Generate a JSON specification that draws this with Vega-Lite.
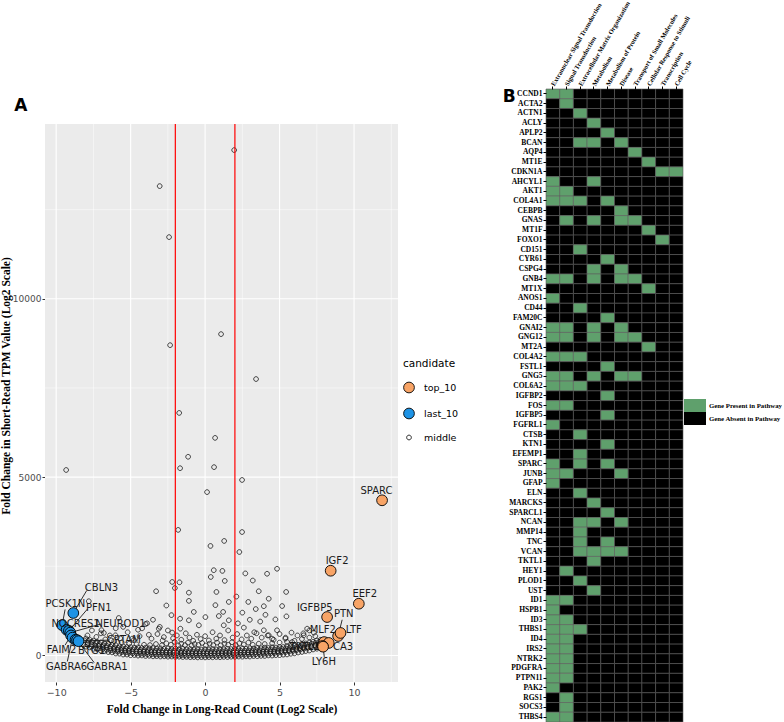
{
"$schema":"https://vega.github.io/schema/vega-lite/v6.json",
"background":"white",
"padding":{"left":0,"top":0,"right":0,"bottom":0},
"config":{"view":{"stroke":null},"font":"DejaVu Sans"},
"datasets":{
"mid":[
{"x":-8,"y":245},{"x":-7.75,"y":225},{"x":-7.5,"y":185},{"x":-7.25,"y":170},{"x":-7,"y":135},{"x":-6.75,"y":125},{"x":-6.5,"y":95},{"x":-6.25,"y":85},{"x":-6,"y":55},{"x":-5.75,"y":50},{"x":-5.5,"y":25},{"x":-5.25,"y":25},{"x":-5,"y":5},{"x":-4.75,"y":10},{"x":-4.5,"y":-5},{"x":-4.25,"y":0},{"x":-4,"y":-15},{"x":-3.75,"y":-10},{"x":-3.5,"y":-25},{"x":-3.25,"y":-20},{"x":-3,"y":-30},{"x":-2.75,"y":-25},{"x":-2.5,"y":-35},{"x":-2.25,"y":-30},{"x":-2,"y":-40},{"x":-1.75,"y":-35},{"x":-1.5,"y":-45},{"x":-1.25,"y":-40},{"x":-1,"y":-50},{"x":-0.75,"y":-45},{"x":-0.5,"y":-55},{"x":-0.25,"y":-48},{"x":0,"y":-55},{"x":0.25,"y":-47},{"x":0.5,"y":-52},{"x":0.75,"y":-44},{"x":1,"y":-50},{"x":1.25,"y":-41},{"x":1.5,"y":-45},{"x":1.75,"y":-36},{"x":2,"y":-40},{"x":2.25,"y":-31},{"x":2.5,"y":-35},{"x":2.75,"y":-25},{"x":3,"y":-30},{"x":3.25,"y":-18},{"x":3.5,"y":-22},{"x":3.75,"y":-12},{"x":4,"y":-14},{"x":4.25,"y":0},{"x":4.5,"y":-3},{"x":4.75,"y":8},{"x":5,"y":8},{"x":5.25,"y":22},{"x":5.5,"y":28},{"x":5.75,"y":48},{"x":6,"y":58},{"x":6.25,"y":82},{"x":6.5,"y":98},{"x":6.75,"y":122},{"x":7,"y":138},{"x":7.25,"y":168},{"x":7.5,"y":188},{"x":7.75,"y":222},
{"x":-7.88,"y":350},{"x":-7.62,"y":310},{"x":-7.38,"y":280},{"x":-7.12,"y":270},{"x":-6.88,"y":235},{"x":-6.62,"y":225},{"x":-6.38,"y":195},{"x":-6.12,"y":185},{"x":-5.88,"y":160},{"x":-5.62,"y":150},{"x":-5.38,"y":130},{"x":-5.12,"y":128},{"x":-4.88,"y":112},{"x":-4.62,"y":115},{"x":-4.38,"y":102},{"x":-4.12,"y":106},{"x":-3.88,"y":94},{"x":-3.62,"y":98},{"x":-3.38,"y":86},{"x":-3.12,"y":90},{"x":-2.88,"y":80},{"x":-2.62,"y":84},{"x":-2.38,"y":74},{"x":-2.12,"y":78},{"x":-1.88,"y":68},{"x":-1.62,"y":73},{"x":-1.38,"y":63},{"x":-1.12,"y":68},{"x":-0.88,"y":59},{"x":-0.62,"y":65},{"x":-0.38,"y":57},{"x":-0.12,"y":63},{"x":0.12,"y":58},{"x":0.38,"y":64},{"x":0.62,"y":60},{"x":0.88,"y":66},{"x":1.12,"y":62},{"x":1.38,"y":69},{"x":1.62,"y":66},{"x":1.88,"y":74},{"x":2.12,"y":72},{"x":2.38,"y":80},{"x":2.62,"y":78},{"x":2.88,"y":86},{"x":3.12,"y":84},{"x":3.38,"y":93},{"x":3.62,"y":91},{"x":3.88,"y":101},{"x":4.12,"y":99},{"x":4.38,"y":110},{"x":4.62,"y":108},{"x":4.88,"y":120},{"x":5.12,"y":122},{"x":5.38,"y":138},{"x":5.62,"y":144},{"x":5.88,"y":166},{"x":6.12,"y":176},{"x":6.38,"y":204},{"x":6.62,"y":216},{"x":6.88,"y":243},{"x":7.12,"y":258},{"x":7.38,"y":290},{"x":7.62,"y":312},
{"x":-8,"y":475},{"x":-7.75,"y":445},{"x":-7.5,"y":415},{"x":-7.25,"y":380},{"x":-7,"y":365},{"x":-6.75,"y":335},{"x":-6.5,"y":325},{"x":-6.25,"y":295},{"x":-6,"y":285},{"x":-5.75,"y":260},{"x":-5.5,"y":255},{"x":-5.25,"y":235},{"x":-5,"y":235},{"x":-4.75,"y":220},{"x":-4.5,"y":225},{"x":-4.25,"y":210},{"x":-4,"y":215},{"x":-3.75,"y":200},{"x":-3.5,"y":207},{"x":-3.25,"y":193},{"x":-3,"y":200},{"x":-2.75,"y":187},{"x":-2.5,"y":195},{"x":-2.25,"y":181},{"x":-2,"y":190},{"x":-1.75,"y":176},{"x":-1.5,"y":185},{"x":-1.25,"y":171},{"x":-1,"y":180},{"x":-0.75,"y":167},{"x":-0.5,"y":177},{"x":-0.25,"y":165},{"x":0,"y":175},{"x":0.25,"y":166},{"x":0.5,"y":178},{"x":0.75,"y":168},{"x":1,"y":181},{"x":1.25,"y":172},{"x":1.5,"y":186},{"x":1.75,"y":177},{"x":2,"y":192},{"x":2.25,"y":182},{"x":2.5,"y":197},{"x":2.75,"y":188},{"x":3,"y":203},{"x":3.25,"y":194},{"x":3.5,"y":210},{"x":3.75,"y":202},{"x":4,"y":218},{"x":4.25,"y":210},{"x":4.5,"y":228},{"x":4.75,"y":220},{"x":5,"y":238},{"x":5.25,"y":236},{"x":5.5,"y":258},{"x":5.75,"y":262},{"x":6,"y":288},{"x":6.25,"y":296},{"x":6.5,"y":328},{"x":6.75,"y":336},{"x":7,"y":368},{"x":7.25,"y":382},{"x":7.5,"y":418},{"x":7.75,"y":438},
{"x":-7.9,"y":300},{"x":-7.64,"y":250},{"x":-7.36,"y":225},{"x":-7.1,"y":200},{"x":-6.86,"y":180},{"x":-6.6,"y":160},{"x":-6.36,"y":140},{"x":-6.1,"y":125},{"x":-5.86,"y":110},{"x":-5.6,"y":95},{"x":-5.36,"y":80},{"x":-5.1,"y":72},{"x":-4.86,"y":60},{"x":-4.6,"y":55},{"x":-4.36,"y":46},{"x":-4.1,"y":42},{"x":-3.86,"y":35},{"x":-3.6,"y":31},{"x":-3.36,"y":26},{"x":-3.1,"y":22},{"x":-2.86,"y":18},{"x":-2.6,"y":15},{"x":-2.36,"y":12},{"x":-2.1,"y":9},{"x":-1.86,"y":6},{"x":-1.6,"y":4},{"x":-1.36,"y":2},{"x":-1.1,"y":0},{"x":-0.86,"y":-2},{"x":-0.6,"y":-3},{"x":-0.36,"y":-4},{"x":-0.1,"y":-5},{"x":0.14,"y":-4},{"x":0.4,"y":-3},{"x":0.64,"y":-2},{"x":0.9,"y":0},{"x":1.14,"y":2},{"x":1.4,"y":5},{"x":1.64,"y":7},{"x":1.9,"y":10},{"x":2.14,"y":13},{"x":2.4,"y":16},{"x":2.64,"y":20},{"x":2.9,"y":24},{"x":3.14,"y":28},{"x":3.4,"y":33},{"x":3.64,"y":38},{"x":3.9,"y":44},{"x":4.14,"y":50},{"x":4.4,"y":57},{"x":4.64,"y":64},{"x":4.9,"y":74},{"x":5.14,"y":84},{"x":5.4,"y":97},{"x":5.64,"y":112},{"x":5.9,"y":128},{"x":6.14,"y":146},{"x":6.4,"y":168},{"x":6.64,"y":188},{"x":6.9,"y":212},{"x":7.14,"y":234},{"x":7.4,"y":262},{"x":7.64,"y":290},
{"x":-7.85,"y":410},{"x":-7.6,"y":385},{"x":-7.35,"y":350},{"x":-7.1,"y":320},{"x":-6.85,"y":290},{"x":-6.6,"y":275},{"x":-6.35,"y":250},{"x":-6.1,"y":232},{"x":-5.85,"y":215},{"x":-5.6,"y":205},{"x":-5.35,"y":190},{"x":-5.1,"y":180},{"x":-4.85,"y":170},{"x":-4.6,"y":166},{"x":-4.35,"y":158},{"x":-4.1,"y":155},{"x":-3.85,"y":148},{"x":-3.6,"y":146},{"x":-3.35,"y":140},{"x":-3.1,"y":139},{"x":-2.85,"y":133},{"x":-2.6,"y":133},{"x":-2.35,"y":128},{"x":-2.1,"y":128},{"x":-1.85,"y":122},{"x":-1.6,"y":123},{"x":-1.35,"y":118},{"x":-1.1,"y":120},{"x":-0.85,"y":114},{"x":-0.6,"y":118},{"x":-0.35,"y":112},{"x":-0.1,"y":117},{"x":0.15,"y":113},{"x":0.4,"y":119},{"x":0.65,"y":115},{"x":0.9,"y":122},{"x":1.15,"y":118},{"x":1.4,"y":126},{"x":1.65,"y":122},{"x":1.9,"y":131},{"x":2.15,"y":127},{"x":2.4,"y":137},{"x":2.65,"y":133},{"x":2.9,"y":143},{"x":3.15,"y":140},{"x":3.4,"y":151},{"x":3.65,"y":148},{"x":3.9,"y":160},{"x":4.15,"y":158},{"x":4.4,"y":170},{"x":4.65,"y":168},{"x":4.9,"y":181},{"x":5.15,"y":186},{"x":5.4,"y":200},{"x":5.65,"y":208},{"x":5.9,"y":225},{"x":6.15,"y":240},{"x":6.4,"y":262},{"x":6.65,"y":280},{"x":6.9,"y":305},{"x":7.15,"y":326},{"x":7.4,"y":352},{"x":7.65,"y":378},
{"x":-7.9,"y":560},{"x":-7.3,"y":520},{"x":-6.7,"y":450},{"x":-6.1,"y":400},{"x":-5.6,"y":360},{"x":-5.1,"y":330},{"x":-4.6,"y":310},{"x":-4.1,"y":300},{"x":-3.7,"y":290},{"x":-3.3,"y":320},{"x":-2.9,"y":285},{"x":-2.6,"y":340},{"x":-2.3,"y":300},{"x":-2.05,"y":380},{"x":-1.8,"y":280},{"x":-1.6,"y":330},{"x":-1.35,"y":290},{"x":-1.15,"y":360},{"x":-0.9,"y":275},{"x":-0.7,"y":320},{"x":-0.45,"y":295},{"x":-0.2,"y":350},{"x":0.05,"y":280},{"x":0.3,"y":330},{"x":0.55,"y":290},{"x":0.8,"y":360},{"x":1.05,"y":285},{"x":1.3,"y":330},{"x":1.55,"y":300},{"x":1.8,"y":370},{"x":2.05,"y":290},{"x":2.3,"y":340},{"x":2.6,"y":305},{"x":2.9,"y":360},{"x":3.2,"y":300},{"x":3.6,"y":330},{"x":4,"y":320},{"x":4.5,"y":340},{"x":5,"y":360},{"x":5.5,"y":380},{"x":6,"y":410},{"x":6.5,"y":460},{"x":7,"y":500},{"x":7.4,"y":540},{"x":-8.15,"y":300},{"x":-8.1,"y":420},
{"x":-7.6,"y":700},{"x":-7,"y":620},{"x":-6.4,"y":560},{"x":-6,"y":760},{"x":-5.7,"y":480},{"x":-5.2,"y":650},{"x":-4.8,"y":430},{"x":-4.4,"y":540},{"x":-4,"y":880},{"x":-3.6,"y":470},{"x":-3.2,"y":600},{"x":-2.85,"y":420},{"x":-2.5,"y":700},{"x":-2.15,"y":480},{"x":-1.9,"y":560},{"x":-1.6,"y":440},{"x":-1.3,"y":620},{"x":-1.05,"y":500},{"x":-0.8,"y":410},{"x":-0.55,"y":580},{"x":-0.3,"y":460},{"x":0,"y":540},{"x":0.25,"y":420},{"x":0.5,"y":650},{"x":0.75,"y":470},{"x":1,"y":560},{"x":1.3,"y":430},{"x":1.55,"y":700},{"x":1.85,"y":500},{"x":2.15,"y":600},{"x":2.45,"y":450},{"x":2.8,"y":560},{"x":3.1,"y":470},{"x":3.45,"y":620},{"x":3.8,"y":500},{"x":4.2,"y":560},{"x":4.6,"y":440},{"x":5,"y":600},{"x":5.4,"y":500},{"x":5.8,"y":640},{"x":6.2,"y":560},{"x":6.6,"y":620},{"x":7,"y":700},{"x":7.3,"y":640},
{"x":-1.81,"y":3520},{"x":0.36,"y":3070},{"x":1.28,"y":3210},{"x":0.58,"y":2390},{"x":1.16,"y":2370},{"x":0.38,"y":2200},{"x":1.32,"y":2090},{"x":-2.21,"y":2060},{"x":-1.72,"y":2050},{"x":-2.03,"y":1890},{"x":-3.29,"y":1800},{"x":-1.09,"y":1760},{"x":0.76,"y":1780},{"x":-1.09,"y":1530},{"x":-7.81,"y":1520},{"x":1.59,"y":1500},{"x":0.69,"y":1410},{"x":1.21,"y":1220},{"x":-0.76,"y":1220},{"x":-2.26,"y":1130},{"x":-1.68,"y":1030},{"x":-4.5,"y":720},{"x":-6.96,"y":710},{"x":-6.8,"y":630},{"x":-3.11,"y":750},{"x":-4.23,"y":760},{"x":-3.78,"y":580},{"x":-3.04,"y":800},{"x":-2.77,"y":515},{"x":-2.21,"y":640},{"x":-1.66,"y":750},{"x":-1.09,"y":985},{"x":-0.42,"y":845},{"x":0.02,"y":1075},{"x":0.92,"y":1105},{"x":1.25,"y":845},{"x":1.59,"y":985},{"x":-6.02,"y":565},{"x":-4.9,"y":470},
{"x":4.16,"y":2290},{"x":4.83,"y":2430},{"x":5.44,"y":1780},{"x":4.27,"y":1590},{"x":3.94,"y":1380},{"x":5.17,"y":1385},{"x":4.72,"y":1010},{"x":4.05,"y":1140},{"x":5.46,"y":1095},{"x":6.85,"y":750},{"x":6.62,"y":565},{"x":5.84,"y":375},{"x":5.39,"y":470},{"x":4.5,"y":470},{"x":4.83,"y":705},{"x":3.94,"y":705},{"x":4.27,"y":565},
{"x":2.3,"y":2900},{"x":2.7,"y":2300},{"x":3.2,"y":2100},{"x":3.6,"y":1800},{"x":2.1,"y":1650},{"x":2.9,"y":1500},{"x":3.4,"y":1300},{"x":2.5,"y":1200},{"x":3,"y":1000},{"x":2.2,"y":900},{"x":3.7,"y":950},{"x":2.6,"y":780},{"x":3.3,"y":650},
{"x":-5.5,"y":800},{"x":-6.3,"y":420},{"x":-3.5,"y":1000},{"x":-2.6,"y":1400},{"x":-3.9,"y":900},{"x":-5.8,"y":1050},
{"x":1.95,"y":14170},{"x":-3.05,"y":13160},{"x":-2.42,"y":11730},{"x":-2.35,"y":8700},{"x":1.07,"y":9010},{"x":3.42,"y":7750},{"x":-1.74,"y":6800},{"x":0.67,"y":6100},{"x":-1.14,"y":5570},{"x":-1.68,"y":5250},{"x":0.6,"y":5280},{"x":-9.33,"y":5200},{"x":0.13,"y":4580},{"x":2.48,"y":4920},{"x":2.48,"y":3460}
],
"cand":[
{"n":"SPARC","c":"top_10","x":11.88,"y":4350,"lx":11.5,"ly":4620},
{"n":"IGF2","c":"top_10","x":8.43,"y":2375,"lx":8.86,"ly":2650},
{"n":"EEF2","c":"top_10","x":10.32,"y":1450,"lx":10.72,"ly":1720},
{"n":"IGFBP5","c":"top_10","x":8.19,"y":1077,"lx":7.36,"ly":1320},
{"n":"PTN","c":"top_10","x":8.93,"y":545,"lx":9.31,"ly":1160,"sx":9.2,"sy":1000},
{"n":"LTF","c":"top_10","x":9.09,"y":630,"lx":9.98,"ly":710},
{"n":"MLF2","c":"top_10","x":7.99,"y":375,"lx":7.9,"ly":710},
{"n":"CA3","c":"top_10","x":8.3,"y":350,"lx":9.26,"ly":235},
{"n":"TKTL1","c":"top_10","x":7.89,"y":265,"lx":6.69,"ly":235},
{"n":"LY6H","c":"top_10","x":7.92,"y":245,"lx":7.97,"ly":-190,"sx":8.0,"sy":-40},
{"n":"CBLN3","c":"last_10","x":-8.85,"y":1190,"lx":-6.96,"ly":1880,"sx":-7.95,"sy":1820},
{"n":"PCSK1N","c":"last_10","x":-9.6,"y":850,"lx":-9.38,"ly":1440,"sx":-9.4,"sy":1290},
{"n":"NOCRES1","c":"last_10","x":-9.3,"y":720,"lx":-8.7,"ly":880},
{"n":"PFN1","c":"last_10","x":-9.15,"y":690,"lx":-7.14,"ly":1330,"sx":-7.9,"sy":1300},
{"n":"NEUROD1","c":"last_10","x":-9.05,"y":640,"lx":-5.68,"ly":880,"sx":-7.0,"sy":880},
{"n":"FAIM2","c":"last_10","x":-9.0,"y":560,"lx":-9.64,"ly":150,"sx":-9.4,"sy":290},
{"n":"GABRA6","c":"last_10","x":-8.9,"y":500,"lx":-9.3,"ly":-330,"sx":-9.25,"sy":-170},
{"n":"BTG1","c":"last_10","x":-8.7,"y":440,"lx":-7.63,"ly":130,"sx":-8.05,"sy":190},
{"n":"GABRA1","c":"last_10","x":-8.6,"y":430,"lx":-6.58,"ly":-330,"sx":-7.45,"sy":-200},
{"n":"CRTAM","c":"last_10","x":-8.5,"y":400,"lx":-5.46,"ly":430,"sx":-6.45,"sy":430}
],
"heat":[
{"g":"CCND1","p1":1,"p2":1,"p3":0,"p4":0,"p5":0,"p6":0,"p7":0,"p8":0,"p9":0,"p10":0},
{"g":"ACTA2","p1":0,"p2":1,"p3":0,"p4":0,"p5":0,"p6":0,"p7":0,"p8":0,"p9":0,"p10":0},
{"g":"ACTN1","p1":0,"p2":0,"p3":1,"p4":0,"p5":0,"p6":0,"p7":0,"p8":0,"p9":0,"p10":0},
{"g":"ACLY","p1":0,"p2":0,"p3":0,"p4":1,"p5":0,"p6":0,"p7":0,"p8":0,"p9":0,"p10":0},
{"g":"APLP2","p1":0,"p2":0,"p3":0,"p4":0,"p5":1,"p6":0,"p7":0,"p8":0,"p9":0,"p10":0},
{"g":"BCAN","p1":0,"p2":0,"p3":1,"p4":1,"p5":0,"p6":1,"p7":0,"p8":0,"p9":0,"p10":0},
{"g":"AQP4","p1":0,"p2":0,"p3":0,"p4":0,"p5":0,"p6":0,"p7":1,"p8":0,"p9":0,"p10":0},
{"g":"MT1E","p1":0,"p2":0,"p3":0,"p4":0,"p5":0,"p6":0,"p7":0,"p8":1,"p9":0,"p10":0},
{"g":"CDKN1A","p1":0,"p2":0,"p3":0,"p4":0,"p5":0,"p6":0,"p7":0,"p8":0,"p9":1,"p10":1},
{"g":"AHCYL1","p1":1,"p2":0,"p3":0,"p4":1,"p5":0,"p6":0,"p7":0,"p8":0,"p9":0,"p10":0},
{"g":"AKT1","p1":1,"p2":1,"p3":0,"p4":0,"p5":0,"p6":0,"p7":0,"p8":0,"p9":0,"p10":0},
{"g":"COL4A1","p1":1,"p2":1,"p3":1,"p4":0,"p5":1,"p6":0,"p7":0,"p8":0,"p9":0,"p10":0},
{"g":"CEBPB","p1":0,"p2":0,"p3":0,"p4":0,"p5":0,"p6":1,"p7":0,"p8":0,"p9":0,"p10":0},
{"g":"GNAS","p1":0,"p2":1,"p3":0,"p4":1,"p5":0,"p6":1,"p7":1,"p8":0,"p9":0,"p10":0},
{"g":"MT1F","p1":0,"p2":0,"p3":0,"p4":0,"p5":0,"p6":0,"p7":0,"p8":1,"p9":0,"p10":0},
{"g":"FOXO1","p1":0,"p2":0,"p3":0,"p4":0,"p5":0,"p6":0,"p7":0,"p8":0,"p9":1,"p10":0},
{"g":"CD151","p1":0,"p2":0,"p3":1,"p4":0,"p5":0,"p6":0,"p7":0,"p8":0,"p9":0,"p10":0},
{"g":"CYR61","p1":0,"p2":0,"p3":0,"p4":0,"p5":1,"p6":0,"p7":0,"p8":0,"p9":0,"p10":0},
{"g":"CSPG4","p1":0,"p2":0,"p3":0,"p4":1,"p5":0,"p6":1,"p7":0,"p8":0,"p9":0,"p10":0},
{"g":"GNB4","p1":1,"p2":1,"p3":0,"p4":1,"p5":0,"p6":1,"p7":1,"p8":0,"p9":0,"p10":0},
{"g":"MT1X","p1":0,"p2":0,"p3":0,"p4":0,"p5":0,"p6":0,"p7":0,"p8":1,"p9":0,"p10":0},
{"g":"ANOS1","p1":1,"p2":0,"p3":0,"p4":0,"p5":0,"p6":0,"p7":0,"p8":0,"p9":0,"p10":0},
{"g":"CD44","p1":0,"p2":0,"p3":1,"p4":0,"p5":0,"p6":0,"p7":0,"p8":0,"p9":0,"p10":0},
{"g":"FAM20C","p1":0,"p2":0,"p3":0,"p4":0,"p5":1,"p6":0,"p7":0,"p8":0,"p9":0,"p10":0},
{"g":"GNAI2","p1":1,"p2":1,"p3":0,"p4":1,"p5":0,"p6":1,"p7":0,"p8":0,"p9":0,"p10":0},
{"g":"GNG12","p1":1,"p2":1,"p3":0,"p4":1,"p5":0,"p6":1,"p7":1,"p8":0,"p9":0,"p10":0},
{"g":"MT2A","p1":0,"p2":0,"p3":0,"p4":0,"p5":0,"p6":0,"p7":0,"p8":1,"p9":0,"p10":0},
{"g":"COL4A2","p1":1,"p2":1,"p3":1,"p4":0,"p5":0,"p6":0,"p7":0,"p8":0,"p9":0,"p10":0},
{"g":"FSTL1","p1":0,"p2":0,"p3":0,"p4":0,"p5":1,"p6":0,"p7":0,"p8":0,"p9":0,"p10":0},
{"g":"GNG5","p1":1,"p2":1,"p3":0,"p4":1,"p5":0,"p6":1,"p7":1,"p8":0,"p9":0,"p10":0},
{"g":"COL6A2","p1":1,"p2":1,"p3":1,"p4":0,"p5":0,"p6":0,"p7":0,"p8":0,"p9":0,"p10":0},
{"g":"IGFBP2","p1":0,"p2":0,"p3":0,"p4":0,"p5":1,"p6":0,"p7":0,"p8":0,"p9":0,"p10":0},
{"g":"FOS","p1":1,"p2":1,"p3":0,"p4":0,"p5":0,"p6":0,"p7":0,"p8":0,"p9":0,"p10":0},
{"g":"IGFBP5","p1":0,"p2":0,"p3":0,"p4":0,"p5":1,"p6":0,"p7":0,"p8":0,"p9":0,"p10":0},
{"g":"FGFRL1","p1":1,"p2":0,"p3":0,"p4":0,"p5":0,"p6":0,"p7":0,"p8":0,"p9":0,"p10":0},
{"g":"CTSB","p1":0,"p2":0,"p3":1,"p4":0,"p5":0,"p6":0,"p7":0,"p8":0,"p9":0,"p10":0},
{"g":"KTN1","p1":0,"p2":0,"p3":0,"p4":0,"p5":1,"p6":0,"p7":0,"p8":0,"p9":0,"p10":0},
{"g":"EFEMP1","p1":0,"p2":0,"p3":1,"p4":0,"p5":0,"p6":0,"p7":0,"p8":0,"p9":0,"p10":0},
{"g":"SPARC","p1":1,"p2":0,"p3":1,"p4":0,"p5":1,"p6":0,"p7":0,"p8":0,"p9":0,"p10":0},
{"g":"JUNB","p1":1,"p2":1,"p3":0,"p4":0,"p5":0,"p6":1,"p7":0,"p8":0,"p9":0,"p10":0},
{"g":"GFAP","p1":1,"p2":0,"p3":0,"p4":0,"p5":0,"p6":0,"p7":0,"p8":0,"p9":0,"p10":0},
{"g":"ELN","p1":0,"p2":0,"p3":1,"p4":0,"p5":0,"p6":0,"p7":0,"p8":0,"p9":0,"p10":0},
{"g":"MARCKS","p1":0,"p2":0,"p3":0,"p4":1,"p5":0,"p6":0,"p7":0,"p8":0,"p9":0,"p10":0},
{"g":"SPARCL1","p1":0,"p2":0,"p3":0,"p4":0,"p5":1,"p6":0,"p7":0,"p8":0,"p9":0,"p10":0},
{"g":"NCAN","p1":0,"p2":0,"p3":1,"p4":1,"p5":0,"p6":1,"p7":0,"p8":0,"p9":0,"p10":0},
{"g":"MMP14","p1":0,"p2":0,"p3":1,"p4":0,"p5":0,"p6":0,"p7":0,"p8":0,"p9":0,"p10":0},
{"g":"TNC","p1":0,"p2":0,"p3":1,"p4":0,"p5":1,"p6":0,"p7":0,"p8":0,"p9":0,"p10":0},
{"g":"VCAN","p1":0,"p2":0,"p3":1,"p4":1,"p5":1,"p6":1,"p7":0,"p8":0,"p9":0,"p10":0},
{"g":"TKTL1","p1":0,"p2":0,"p3":0,"p4":1,"p5":0,"p6":0,"p7":0,"p8":0,"p9":0,"p10":0},
{"g":"HEY1","p1":0,"p2":1,"p3":0,"p4":0,"p5":0,"p6":0,"p7":0,"p8":0,"p9":0,"p10":0},
{"g":"PLOD1","p1":0,"p2":0,"p3":1,"p4":0,"p5":0,"p6":0,"p7":0,"p8":0,"p9":0,"p10":0},
{"g":"UST","p1":0,"p2":0,"p3":0,"p4":1,"p5":0,"p6":0,"p7":0,"p8":0,"p9":0,"p10":0},
{"g":"ID1","p1":1,"p2":1,"p3":0,"p4":0,"p5":0,"p6":0,"p7":0,"p8":0,"p9":0,"p10":0},
{"g":"HSPB1","p1":1,"p2":0,"p3":0,"p4":0,"p5":0,"p6":0,"p7":0,"p8":0,"p9":0,"p10":0},
{"g":"ID3","p1":1,"p2":1,"p3":0,"p4":0,"p5":0,"p6":0,"p7":0,"p8":0,"p9":0,"p10":0},
{"g":"THBS1","p1":1,"p2":1,"p3":1,"p4":0,"p5":0,"p6":0,"p7":0,"p8":0,"p9":0,"p10":0},
{"g":"ID4","p1":1,"p2":1,"p3":0,"p4":0,"p5":0,"p6":0,"p7":0,"p8":0,"p9":0,"p10":0},
{"g":"IRS2","p1":1,"p2":1,"p3":0,"p4":0,"p5":0,"p6":0,"p7":0,"p8":0,"p9":0,"p10":0},
{"g":"NTRK2","p1":1,"p2":1,"p3":0,"p4":0,"p5":0,"p6":0,"p7":0,"p8":0,"p9":0,"p10":0},
{"g":"PDGFRA","p1":1,"p2":1,"p3":0,"p4":0,"p5":0,"p6":0,"p7":0,"p8":0,"p9":0,"p10":0},
{"g":"PTPN11","p1":1,"p2":1,"p3":0,"p4":0,"p5":0,"p6":0,"p7":0,"p8":0,"p9":0,"p10":0},
{"g":"PAK2","p1":1,"p2":0,"p3":0,"p4":0,"p5":0,"p6":0,"p7":0,"p8":0,"p9":0,"p10":0},
{"g":"RGS1","p1":0,"p2":1,"p3":0,"p4":0,"p5":0,"p6":0,"p7":0,"p8":0,"p9":0,"p10":0},
{"g":"SOCS3","p1":0,"p2":1,"p3":0,"p4":0,"p5":0,"p6":0,"p7":0,"p8":0,"p9":0,"p10":0},
{"g":"THBS4","p1":1,"p2":1,"p3":0,"p4":0,"p5":0,"p6":0,"p7":0,"p8":0,"p9":0,"p10":0}
]
},
"spacing":44,
"resolve":{"scale":{"fill":"independent","stroke":"independent","shape":"independent"},"legend":{"fill":"independent","stroke":"independent","shape":"independent"}},
"hconcat":[
{
"width":353,"height":593,
"title":{"text":"A","anchor":"start","frame":"bounds","fontSize":17,"font":"DejaVu Sans","fontWeight":"bold","color":"#000000","dx":14,"offset":-26},
"view":{"fill":null,"stroke":null},
"layer":[
{"data":{"values":[{}]},"mark":{"type":"rect","color":"#EBEBEB"},"encoding":{"x":{"datum":-10.75,"type":"quantitative"},"x2":{"datum":12.95},"y":{"datum":14900,"type":"quantitative"},"y2":{"datum":-745}}},
{"data":{"values":[{"x":-7.5},{"x":-2.5},{"x":2.5},{"x":7.5},{"x":12.5}]},"mark":{"type":"rule","color":"#FFFFFF","strokeWidth":0.5},"encoding":{"x":{"field":"x","type":"quantitative"},"y":{"datum":14900,"type":"quantitative"},"y2":{"datum":-745}}},
{"data":{"values":[{"x":-10},{"x":-5},{"x":0},{"x":5},{"x":10}]},"mark":{"type":"rule","color":"#FFFFFF","strokeWidth":1.1},"encoding":{"x":{"field":"x","type":"quantitative"},"y":{"datum":14900,"type":"quantitative"},"y2":{"datum":-745}}},
{"data":{"values":[{"y":2500},{"y":7500},{"y":12500}]},"mark":{"type":"rule","color":"#FFFFFF","strokeWidth":0.5},"encoding":{"y":{"field":"y","type":"quantitative"}}},
{"data":{"values":[{"y":0},{"y":5000},{"y":10000}]},"mark":{"type":"rule","color":"#FFFFFF","strokeWidth":1.1},"encoding":{"y":{"field":"y","type":"quantitative"}}},
{"data":{"name":"mid"},"mark":{"type":"point","filled":true,"strokeWidth":0.8,"opacity":1,"size":115},
"encoding":{
"x":{"field":"x","type":"quantitative","title":"Fold Change in Long-Read Count (Log2 Scale)","scale":{"domain":[-10.75,12.95],"nice":false,"zero":false},"axis":{"values":[-10,-5,0,5,10],"grid":false,"domain":false,"tickColor":"#333333","tickSize":3,"labelColor":"#4D4D4D","labelFont":"DejaVu Sans","labelFontSize":9.5,"labelPadding":2,"titleFont":"Liberation Serif","titleFontWeight":"bold","titleFontSize":11.5,"titleColor":"#000000","titlePadding":7}},
"y":{"field":"y","type":"quantitative","title":"Fold Change in Short-Read TPM Value (Log2 Scale)","scale":{"domain":[-745,15883],"nice":false,"zero":false},"axis":{"values":[0,5000,10000],"format":"d","grid":false,"domain":false,"tickColor":"#333333","tickSize":3,"labelColor":"#4D4D4D","labelFont":"DejaVu Sans","labelFontSize":9,"labelPadding":1,"titleFont":"Liberation Serif","titleFontWeight":"bold","titleFontSize":11.5,"titleColor":"#000000","titlePadding":1}},
"fill":{"datum":"middle","type":"nominal","scale":{"domain":["top_10","last_10","middle"],"range":["#F8A466","#1E93E5","rgba(0,0,0,0)"]},"legend":{"title":"candidate","orient":"none","legendX":358,"legendY":270,"titleFont":"DejaVu Sans","titleFontSize":10.5,"titleFontWeight":"normal","titleColor":"#000000","labelFont":"DejaVu Sans","labelFontSize":9.5,"labelColor":"#000000","rowPadding":10,"titlePadding":12,"labelOffset":9,"symbolStrokeWidth":0.9,"symbolSize":115}},
"stroke":{"datum":"middle","type":"nominal","scale":{"domain":["top_10","last_10","middle"],"range":["#000000","#000000","#141414"]},"legend":{"title":"candidate","orient":"none","legendX":358,"legendY":270}},
"shape":{"datum":"middle","type":"nominal","scale":{"domain":["top_10","last_10","middle"],"range":["circle","circle","M-0.44,0A0.44,0.44 0 1,0 0.44,0A0.44,0.44 0 1,0 -0.44,0Z"]},"legend":{"title":"candidate","orient":"none","legendX":358,"legendY":270}}
}},
{"data":{"values":[{"x":-2},{"x":2}]},"mark":{"type":"rule","color":"#FF0000","strokeWidth":1.2},"encoding":{"x":{"field":"x","type":"quantitative"},"y":{"datum":14900,"type":"quantitative"},"y2":{"datum":-745}}},
{"data":{"name":"cand"},"transform":[{"filter":"isValid(datum.sx)"}],"mark":{"type":"rule","color":"#1A1A1A","strokeWidth":0.9},"encoding":{"x":{"field":"x","type":"quantitative"},"y":{"field":"y","type":"quantitative"},"x2":{"field":"sx"},"y2":{"field":"sy"}}},
{"data":{"name":"cand"},"mark":{"type":"point","filled":true,"strokeWidth":0.9,"opacity":1,"size":115},
"encoding":{
"x":{"field":"x","type":"quantitative"},
"y":{"field":"y","type":"quantitative"},
"fill":{"field":"c","type":"nominal","legend":{"title":"candidate","orient":"none","legendX":358,"legendY":270}},
"stroke":{"field":"c","type":"nominal","legend":{"title":"candidate","orient":"none","legendX":358,"legendY":270}},
"shape":{"field":"c","type":"nominal","legend":{"title":"candidate","orient":"none","legendX":358,"legendY":270}}
}},
{"data":{"name":"cand"},"mark":{"type":"text","font":"DejaVu Sans","fontSize":10,"color":"#1A1A1A"},"encoding":{"x":{"field":"lx","type":"quantitative"},"y":{"field":"ly","type":"quantitative"},"text":{"field":"n"}}}
]
},
{
"width":137,"height":633,
"data":{"name":"heat"},
"transform":[
{"fold":["p1","p2","p3","p4","p5","p6","p7","p8","p9","p10"],"as":["key","value"]},
{"lookup":"key","from":{"data":{"values":[{"key":"p1","pw":"Extranuclear Signal Transduction"},{"key":"p2","pw":"Signal Transduction"},{"key":"p3","pw":"Extracellular Matrix Organization"},{"key":"p4","pw":"Metabolism"},{"key":"p5","pw":"Metabolism of Protein"},{"key":"p6","pw":"Disease"},{"key":"p7","pw":"Transport of Small Molecules"},{"key":"p8","pw":"Cellular Response to Stimuli"},{"key":"p9","pw":"Transcription"},{"key":"p10","pw":"Cell Cycle"}]},"key":"key","fields":["pw"]}},
{"lookup":"value","from":{"data":{"values":[{"value":1,"st":"Gene Present in Pathway"},{"value":0,"st":"Gene Absent in Pathway"}]},"key":"value","fields":["st"]}}
],
"title":{"text":"B","orient":"left","anchor":"end","frame":"group","angle":0,"fontSize":17,"font":"DejaVu Sans","fontWeight":"bold","color":"#000000","align":"right","baseline":"top","offset":-20},
"mark":{"type":"rect","stroke":"#5A5A5A","strokeWidth":0.6},
"encoding":{
"x":{"field":"pw","type":"nominal","sort":["Extranuclear Signal Transduction","Signal Transduction","Extracellular Matrix Organization","Metabolism","Metabolism of Protein","Disease","Transport of Small Molecules","Cellular Response to Stimuli","Transcription","Cell Cycle"],"scale":{"paddingInner":0,"paddingOuter":0},"axis":{"orient":"top","title":null,"labelAngle":-60,"labelAlign":"left","labelBaseline":"middle","domain":false,"tickColor":"#000000","tickSize":3,"labelFont":"Liberation Serif","labelFontWeight":"bold","labelFontSize":6.5,"labelColor":"#000000","labelPadding":1,"labelLimit":0}},
"y":{"field":"g","type":"nominal","sort":null,"scale":{"paddingInner":0,"paddingOuter":0},"axis":{"title":null,"domain":false,"tickColor":"#000000","tickSize":3,"labelFont":"Liberation Serif","labelFontWeight":"bold","labelFontSize":7.5,"labelColor":"#000000","labelPadding":1}},
"fill":{"field":"st","type":"nominal","scale":{"domain":["Gene Present in Pathway","Gene Absent in Pathway"],"range":["#5FA06C","#000000"]},"legend":{"title":null,"orient":"none","legendX":138,"legendY":310,"symbolType":"M-1,-0.6H1V0.6H-1Z","symbolSize":484,"symbolStrokeWidth":0,"clipHeight":13,"rowPadding":0,"labelFont":"Liberation Serif","labelFontWeight":"bold","labelFontSize":6.8,"labelColor":"#000000","labelOffset":3}}
}
}
]
}
